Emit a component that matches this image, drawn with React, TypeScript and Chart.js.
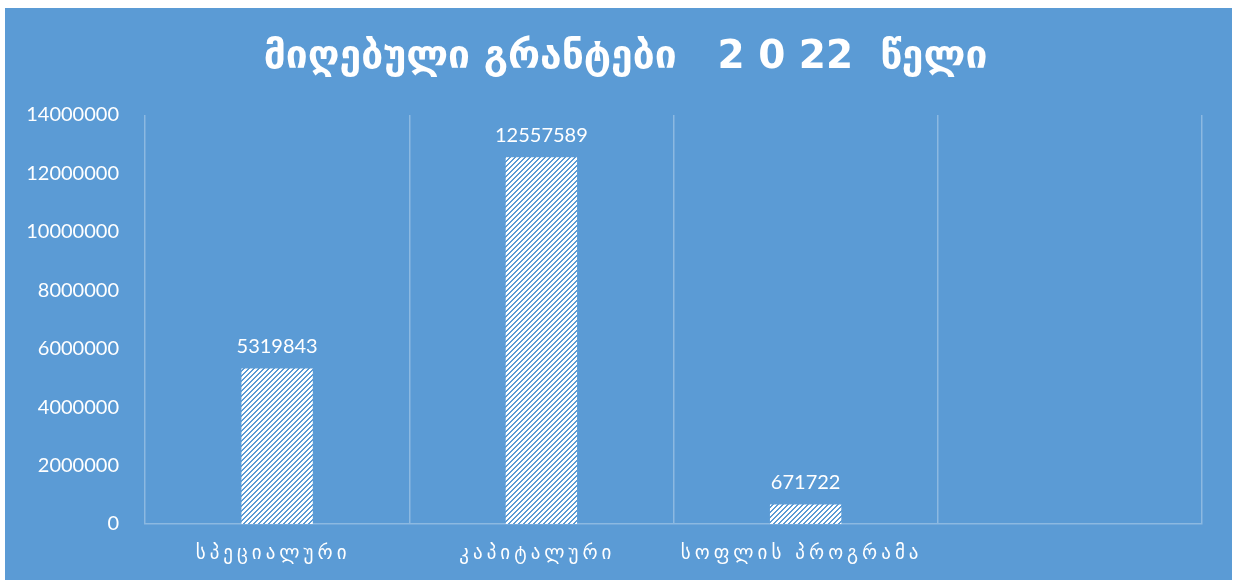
import React, { useEffect, useRef } from "react";
import { Chart, registerables } from "chart.js";

Chart.register(...registerables);

const TITLE = "მიღებული გრანტები   2 0 22  წელი";
const categories = ["სპეციალური", "კაპიტალური", "სოფლის პროგრამა", ""];
const values: (number | null)[] = [5319843, 12557589, 671722, null];
const yTicks = [0, 2000000, 4000000, 6000000, 8000000, 10000000, 12000000, 14000000];

const BG = "#5B9BD5";
const W = 1227;
const H = 572;

function makePattern(): CanvasPattern | string {
  const c = document.createElement("canvas");
  const n = 5;
  c.width = n;
  c.height = n;
  const g = c.getContext("2d");
  if (!g) return "#ffffff";
  g.fillStyle = "#ffffff";
  g.fillRect(0, 0, n, n);
  g.fillStyle = BG;
  for (let x = 0; x < n; x++) {
    for (let y = 0; y < n; y++) {
      const m = (x + y) % n;
      if (m === 3 || m === 4) g.fillRect(x, y, 1, 1);
    }
  }
  return g.createPattern(c, "repeat") || "#ffffff";
}

export default function App() {
  const ref = useRef<HTMLCanvasElement>(null);
  useEffect(() => {
    if (!ref.current) return;
    const pattern = makePattern();
    const overlay = {
      id: "overlay",
      beforeDraw(chart: any) {
        const ctx = chart.ctx;
        ctx.save();
        ctx.fillStyle = BG;
        ctx.fillRect(0, 0, chart.width, chart.height);
        ctx.restore();
      },
      afterDraw(chart: any) {
        const ctx = chart.ctx;
        ctx.save();
        // title
        ctx.fillStyle = "#ffffff";
        ctx.textAlign = "center";
        ctx.textBaseline = "middle";
        ctx.font = "bold 39px 'DejaVu Sans'";
        ctx.fillText(TITLE, chart.width / 2 + 7, 50);
        // data labels
        const meta = chart.getDatasetMeta(0);
        ctx.font = "20px Lato";
        ctx.textBaseline = "bottom";
        meta.data.forEach((bar: any, i: number) => {
          const v = values[i];
          if (v == null) return;
          ctx.fillText(String(v), bar.x, bar.y - 12);
        });
        // x labels with letter spacing
        const xs = chart.scales.x;
        ctx.font = "19px 'DejaVu Sans'";
        (ctx as any).letterSpacing = "4px";
        ctx.textBaseline = "middle";
        categories.forEach((c, i) => {
          if (!c) return;
          ctx.fillText(c, xs.getPixelForValue(i) - 4, 546);
        });
        ctx.restore();
      },
    };
    const chart = new Chart(ref.current, {
      type: "bar",
      data: {
        labels: categories,
        datasets: [
          {
            data: values,
            backgroundColor: pattern as any,
            borderWidth: 0,
            barPercentage: 0.9,
            categoryPercentage: 0.3,
          },
        ],
      },
      options: {
        responsive: false,
        animation: false,
        layout: { padding: { top: 107, right: 30, left: 0, bottom: 0 } },
        plugins: {
          legend: { display: false },
          title: { display: false },
          tooltip: { enabled: false },
        },
        scales: {
          x: {
            offset: true,
            grid: {
              display: true,
              offset: true,
              color: "rgba(255,255,255,0.3)",
              drawTicks: false,
              lineWidth: 1.5,
            },
            border: { display: true, color: "rgba(255,255,255,0.3)", width: 1.5 },
            ticks: { display: false },
            afterFit(scale: any) {
              scale.height = 56;
            },
          },
          y: {
            min: 0,
            max: 14000000,
            afterBuildTicks(scale: any) {
              scale.ticks = yTicks.map((v) => ({ value: v }));
            },
            grid: { display: false },
            border: { display: false },
            ticks: {
              color: "#ffffff",
              font: { family: "Lato", size: 20 },
              padding: 18,
              callback: (v: any) => String(v),
            },
            afterFit(scale: any) {
              scale.width = 140;
            },
          },
        },
      },
      plugins: [overlay],
    });
    return () => chart.destroy();
  }, []);
  return (
    <div style={{ position: "absolute", left: 5, top: 8, width: W, height: H }}>
      <canvas ref={ref} width={W} height={H} style={{ display: "block" }} />
    </div>
  );
}
